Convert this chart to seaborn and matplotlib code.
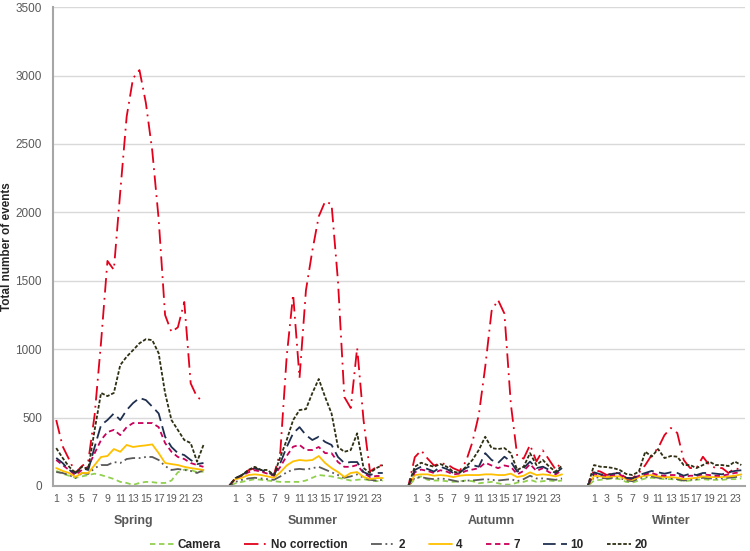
import numpy as np
import pandas as pd
import matplotlib
matplotlib.use("Agg")
import matplotlib.pyplot as plt
import matplotlib.transforms as mtransforms
import seaborn as sns

# dados (24 horas por estacao: primavera, verao, outono, inverno)
seasons = ['Spring', 'Summer', 'Autumn', 'Winter']
hours = list(range(1, 25))
series = ['Camera', 'No correction', '2', '4', '7', '10', '20']

camera = [110, 90, 75, 60, 70, 80, 90, 80, 66, 51, 30, 22, 8, 22, 30, 28, 22, 22, 40, 100, 120, 118, 100, 105,
          20, 30, 40, 50, 45, 40, 35, 30, 30, 30, 30, 40, 60, 80, 75, 70, 60, 50, 40, 45, 50, 40, 35, 40,
          50, 70, 45, 40, 40, 35, 30, 35, 40, 35, 20, 25, 30, 20, 10, 10, 25, 30, 45, 30, 35, 40, 35, 40,
          40, 45, 50, 55, 50, 30, 25, 40, 55, 60, 55, 50, 50, 45, 35, 40, 45, 50, 45, 45, 45, 50, 50, 55]
no_correction = [482, 290, 195, 95, 145, 180, 520, 1050, 1645, 1580, 2150, 2700, 2980, 3040, 2800, 2450, 1950, 1250, 1125, 1160, 1345, 750, 650, 620,
                 60, 75, 115, 130, 110, 100, 80, 250, 950, 1400, 790, 1430, 1720, 1970, 2080, 2060, 1500, 650, 570, 1010, 480, 105, 140, 155,
                 210, 260, 200, 150, 165, 160, 130, 110, 180, 320, 520, 870, 1280, 1360, 1260, 600, 220, 200, 300, 180, 260, 190, 120, 180,
                 117, 105, 80, 95, 95, 58, 58, 95, 153, 226, 277, 372, 424, 387, 190, 131, 131, 214, 153, 131, 131, 95, 131, 117]
corr_2 = [102, 95, 80, 58, 95, 88, 131, 153, 153, 175, 168, 197, 204, 204, 212, 212, 190, 146, 117, 124, 117, 110, 95, 117,
          30, 45, 55, 60, 55, 50, 45, 70, 100, 120, 125, 120, 130, 140, 120, 100, 80, 60, 70, 85, 60, 45, 40, 45,
          60, 65, 55, 50, 55, 50, 40, 30, 40, 40, 45, 50, 45, 40, 45, 50, 35, 50, 75, 55, 55, 50, 45, 55,
          65, 60, 55, 60, 60, 40, 35, 55, 65, 70, 60, 55, 55, 50, 40, 45, 50, 60, 55, 55, 55, 60, 65, 70]
corr_4 = [131, 110, 95, 66, 95, 95, 153, 212, 219, 270, 250, 300, 285, 292, 297, 304, 240, 168, 160, 153, 140, 131, 124, 117,
          50, 60, 80, 85, 80, 70, 60, 100, 150, 180, 190, 185, 190, 219, 168, 131, 102, 66, 95, 102, 66, 51, 58, 58,
          80, 85, 85, 75, 80, 75, 65, 75, 80, 80, 80, 85, 85, 80, 80, 90, 65, 75, 100, 80, 85, 80, 70, 85,
          75, 70, 65, 70, 70, 50, 45, 65, 75, 80, 70, 65, 65, 60, 50, 55, 60, 70, 65, 65, 65, 70, 75, 85]
corr_7 = [190, 153, 117, 80, 117, 140, 240, 336, 394, 410, 372, 430, 460, 460, 460, 460, 430, 314, 250, 212, 197, 168, 153, 140,
          55, 75, 100, 115, 105, 90, 75, 140, 220, 287, 300, 263, 263, 285, 240, 240, 175, 140, 140, 153, 95, 66, 73, 73,
          100, 120, 110, 95, 115, 105, 85, 90, 110, 120, 130, 170, 150, 130, 150, 140, 85, 110, 160, 110, 130, 100, 85, 115,
          90, 80, 75, 80, 85, 55, 50, 75, 85, 95, 80, 75, 80, 80, 65, 75, 75, 85, 80, 75, 75, 85, 95, 100]
corr_10 = [205, 168, 117, 95, 131, 117, 285, 445, 482, 530, 482, 555, 606, 643, 628, 580, 530, 360, 285, 240, 226, 190, 160, 168,
           58, 80, 110, 130, 117, 100, 80, 168, 285, 385, 430, 372, 336, 360, 322, 300, 212, 168, 175, 175, 102, 80, 95, 95,
           117, 141, 124, 105, 141, 124, 95, 100, 131, 153, 141, 240, 190, 168, 214, 178, 105, 131, 178, 131, 141, 117, 95, 131,
           100, 85, 80, 90, 95, 60, 55, 80, 95, 110, 100, 90, 100, 95, 75, 90, 80, 95, 95, 90, 85, 100, 110, 115]
corr_20 = [277, 205, 141, 95, 140, 125, 410, 680, 657, 680, 884, 945, 993, 1043, 1073, 1066, 970, 680, 482, 409, 336, 314, 178, 300,
           58, 80, 117, 140, 117, 117, 80, 212, 336, 482, 555, 562, 679, 782, 650, 530, 285, 250, 263, 385, 131, 95, 131, 153,
           141, 170, 153, 141, 160, 141, 105, 95, 141, 190, 263, 360, 277, 270, 277, 240, 117, 141, 240, 153, 190, 141, 105, 150,
           153, 141, 138, 131, 117, 88, 80, 105, 251, 214, 270, 204, 219, 214, 153, 153, 131, 153, 178, 153, 153, 146, 178, 153]

valores = [camera, no_correction, corr_2, corr_4, corr_7, corr_10, corr_20]

# cada estacao ocupa 28 categorias: 24 horas + 4 vazias (as 2 ultimas com zero)
bloco = 28
linhas = []
for nome, vals in zip(series, valores):
    for k in range(len(seasons)):
        inicio = k * bloco
        if k > 0:
            for p in (inicio - 2, inicio - 1):
                linhas.append((nome, k, p, 0))
        for i, h in enumerate(hours):
            linhas.append((nome, k, inicio + i, vals[k * 24 + i]))
df = pd.DataFrame(linhas, columns=['serie', 'seg', 'pos', 'valor'])

cores = {'Camera': '#92d050', 'No correction': '#e3001b', '2': '#595959', '4': '#ffc000',
         '7': '#c8005a', '10': '#1f2f4f', '20': '#2f2f14'}
tracos = {'Camera': (3, 2), 'No correction': (8, 3, 1, 3), '2': (6, 2, 1, 2, 1, 2), '4': '',
          '7': (3, 2), '10': (7, 3), '20': (2, 1)}

sns.set_style('white')
plt.rcParams['font.family'] = ['Liberation Sans', 'DejaVu Sans']

fig = plt.figure(figsize=(7.5, 5.51), dpi=100)
ax = fig.add_axes([0.0707, 0.118, 0.922, 0.869])

sns.lineplot(data=df, x='pos', y='valor', hue='serie', style='serie', units='seg',
             estimator=None, hue_order=series, style_order=series,
             palette=cores, dashes=tracos, linewidth=1.3, ax=ax)

ax.set_xlim(-0.5, 3 * bloco + 23.5)
ax.set_ylim(0, 3500)
ax.set_yticks(np.arange(0, 3501, 500))
ax.yaxis.grid(True, color='#d9d9d9', linewidth=1)
ax.set_axisbelow(True)

pos_ticks = []
rot_ticks = []
for k in range(len(seasons)):
    for h in hours:
        if h % 2 == 1:
            pos_ticks.append(k * bloco + h - 1)
            rot_ticks.append(str(h))
ax.set_xticks(pos_ticks)
ax.set_xticklabels(rot_ticks)
ax.tick_params(axis='both', length=0, labelsize=8.5, labelcolor='#595959')
ax.tick_params(axis='x', pad=6, labelsize=7.6)
ax.tick_params(axis='y', pad=8)

for lado in ['top', 'right']:
    ax.spines[lado].set_visible(False)
for lado in ['left', 'bottom']:
    ax.spines[lado].set_color('#a6a6a6')
    ax.spines[lado].set_linewidth(1.5)

ax.set_xlabel('')
ax.set_ylabel('Total number of events', fontsize=8.5, fontweight='bold', labelpad=2)

trans = mtransforms.blended_transform_factory(ax.transData, ax.transAxes)
for k, s in enumerate(seasons):
    ax.text(k * bloco + 12, -0.074, s, transform=trans, ha='center', va='center',
            fontsize=9, fontweight='bold', color='#595959')

sns.move_legend(ax, 'center', bbox_to_anchor=(0.5, -0.123), ncol=7, frameon=False,
                title=None, fontsize=8.5, handlelength=2.0, columnspacing=2.0, handletextpad=0.3)
for t in ax.get_legend().get_texts():
    t.set_fontweight('bold')

fig.savefig('out.png', dpi=100)
